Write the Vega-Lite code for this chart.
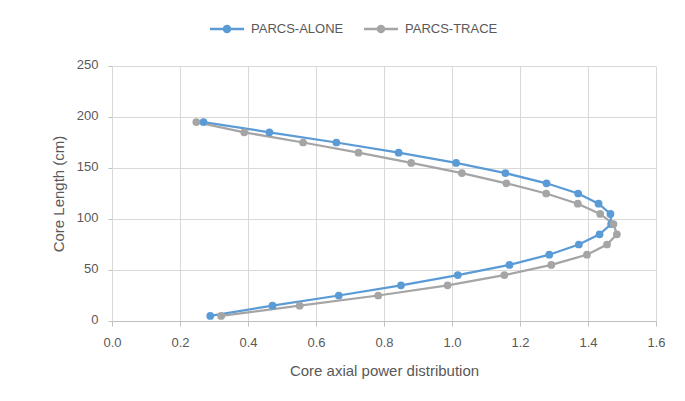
{
  "$schema": "https://vega.github.io/schema/vega-lite/v6.json",
  "width": 544,
  "height": 255,
  "autosize": {"type": "none"},
  "padding": {"left": 112, "top": 66, "right": 29, "bottom": 80},
  "background": "white",
  "config": {
    "view": {"stroke": null},
    "font": "Liberation Sans",
    "axis": {
      "gridColor": "#D9D9D9",
      "gridWidth": 1,
      "domainColor": "#BFBFBF",
      "tickColor": "#BFBFBF",
      "labelColor": "#595959",
      "titleColor": "#595959",
      "labelFontSize": 13,
      "titleFontSize": 15,
      "titleFontWeight": "normal",
      "tickSize": 5
    }
  },
  "data": {
    "values": [
      {"series": "PARCS-ALONE", "y": 5, "x": 0.289},
      {"series": "PARCS-ALONE", "y": 15, "x": 0.472},
      {"series": "PARCS-ALONE", "y": 25, "x": 0.667},
      {"series": "PARCS-ALONE", "y": 35, "x": 0.850},
      {"series": "PARCS-ALONE", "y": 45, "x": 1.017},
      {"series": "PARCS-ALONE", "y": 55, "x": 1.169},
      {"series": "PARCS-ALONE", "y": 65, "x": 1.286},
      {"series": "PARCS-ALONE", "y": 75, "x": 1.373},
      {"series": "PARCS-ALONE", "y": 85, "x": 1.434},
      {"series": "PARCS-ALONE", "y": 95, "x": 1.468},
      {"series": "PARCS-ALONE", "y": 105, "x": 1.466},
      {"series": "PARCS-ALONE", "y": 115, "x": 1.431},
      {"series": "PARCS-ALONE", "y": 125, "x": 1.371},
      {"series": "PARCS-ALONE", "y": 135, "x": 1.278},
      {"series": "PARCS-ALONE", "y": 145, "x": 1.157},
      {"series": "PARCS-ALONE", "y": 155, "x": 1.012},
      {"series": "PARCS-ALONE", "y": 165, "x": 0.843},
      {"series": "PARCS-ALONE", "y": 175, "x": 0.660},
      {"series": "PARCS-ALONE", "y": 185, "x": 0.463},
      {"series": "PARCS-ALONE", "y": 195, "x": 0.269},
      {"series": "PARCS-TRACE", "y": 5, "x": 0.321},
      {"series": "PARCS-TRACE", "y": 15, "x": 0.552},
      {"series": "PARCS-TRACE", "y": 25, "x": 0.783},
      {"series": "PARCS-TRACE", "y": 35, "x": 0.987},
      {"series": "PARCS-TRACE", "y": 45, "x": 1.154},
      {"series": "PARCS-TRACE", "y": 55, "x": 1.292},
      {"series": "PARCS-TRACE", "y": 65, "x": 1.397},
      {"series": "PARCS-TRACE", "y": 75, "x": 1.456},
      {"series": "PARCS-TRACE", "y": 85, "x": 1.485},
      {"series": "PARCS-TRACE", "y": 95, "x": 1.475},
      {"series": "PARCS-TRACE", "y": 105, "x": 1.436},
      {"series": "PARCS-TRACE", "y": 115, "x": 1.370},
      {"series": "PARCS-TRACE", "y": 125, "x": 1.277},
      {"series": "PARCS-TRACE", "y": 135, "x": 1.160},
      {"series": "PARCS-TRACE", "y": 145, "x": 1.029},
      {"series": "PARCS-TRACE", "y": 155, "x": 0.880},
      {"series": "PARCS-TRACE", "y": 165, "x": 0.725},
      {"series": "PARCS-TRACE", "y": 175, "x": 0.562},
      {"series": "PARCS-TRACE", "y": 185, "x": 0.389},
      {"series": "PARCS-TRACE", "y": 195, "x": 0.248}
    ]
  },
  "encoding": {
    "x": {
      "field": "x", "type": "quantitative",
      "scale": {"domain": [0, 1.6], "nice": false, "zero": false},
      "axis": {"values": [0, 0.2, 0.4, 0.6, 0.8, 1, 1.2, 1.4, 1.6], "title": "Core axial power distribution", "labelPadding": 10, "titlePadding": 14, "labelFlush": false}
    },
    "y": {
      "field": "y", "type": "quantitative",
      "scale": {"domain": [0, 250], "nice": false},
      "axis": {"values": [0, 50, 100, 150, 200, 250], "title": "Core Length  (cm)", "tickSize": 4, "labelPadding": 10, "labelOffset": -2, "titlePadding": 10, "domain": true, "domainColor": "#D9D9D9", "labelFlush": false}
    },
    "color": {
      "field": "series", "type": "nominal",
      "scale": {"domain": ["PARCS-ALONE", "PARCS-TRACE"], "range": ["#5B9BD5", "#A5A5A5"]},
      "legend": {
        "title": null,
        "orient": "none",
        "direction": "horizontal",
        "legendX": 98,
        "legendY": -54,
        "symbolType": "M-1,-0.07H1V0.07H-1Z M-0.25,0A0.25,0.25 0 1,1 0.25,0A0.25,0.25 0 1,1 -0.25,0Z",
        "symbolSize": 1156,
        "symbolStrokeWidth": 0,
        "symbolOpacity": 1,
        "labelFontSize": 13,
        "labelColor": "#595959",
        "labelOffset": 7,
        "columnPadding": 20
      }
    }
  },
  "layer": [
    {
      "mark": {"type": "line", "strokeWidth": 2.25},
      "encoding": {"order": {"field": "y", "type": "quantitative"}}
    },
    {
      "mark": {"type": "point", "filled": true, "size": 60, "opacity": 1}
    }
  ]
}
